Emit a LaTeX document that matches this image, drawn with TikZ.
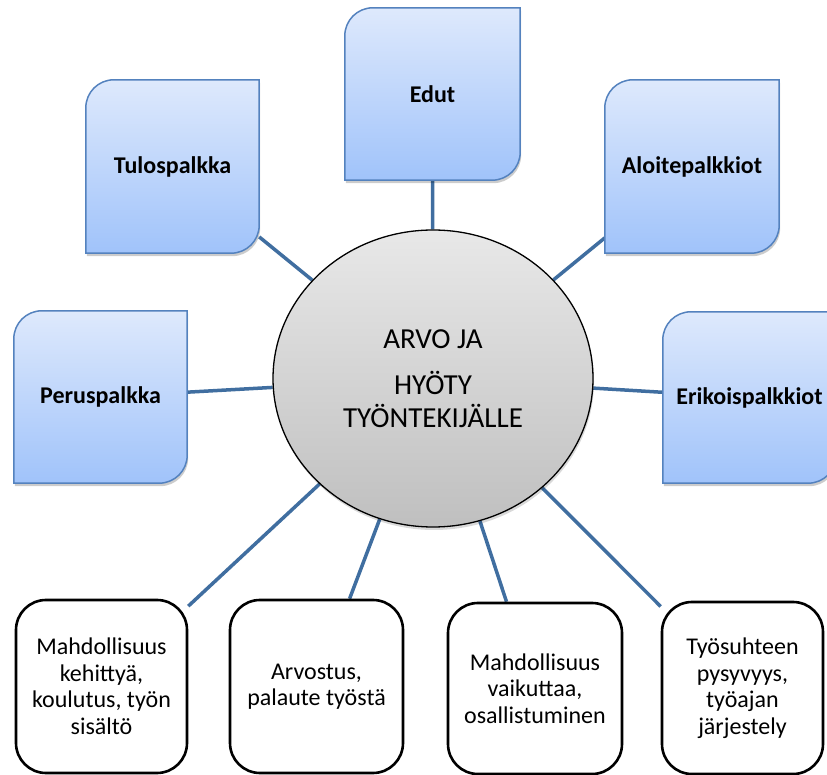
\documentclass[tikz,border=0pt]{standalone}
\usepackage{fontspec}
\setmainfont{Carlito}
\usetikzlibrary{shapes.geometric}
\pgfdeclarelayer{lines}
\pgfdeclarelayer{shapes}
\pgfsetlayers{lines,shapes,main}
\definecolor{bluetop}{RGB}{222,233,252}
\definecolor{bluebot}{RGB}{160,195,250}
\definecolor{blueedge}{RGB}{84,130,190}
\definecolor{conn}{RGB}{64,110,160}
\tikzset{
 bluenode/.style={minimum width=173pt, minimum height=172pt, inner sep=0pt, font=\bfseries\fontsize{24}{28}\selectfont},
 whitebox/.style={draw=black, line width=2.6pt, fill=white, rounded corners=30pt, minimum height=173pt, inner sep=0pt, align=center, font=\fontsize{24}{26.5}\selectfont},
 hub/.style={ellipse, draw=black, line width=1.3pt, top color=gray!18, bottom color=gray!50, minimum width=320pt, minimum height=297pt, inner sep=0pt, align=center, font=\fontsize{29}{33}\selectfont},
 link/.style={draw=conn, line width=3.5pt},
 blueshape/.style={top color=bluetop, bottom color=bluebot, draw=blueedge, line width=1.5pt},
 shadowshape/.style={fill=black, opacity=0.2},
}
\newcommand\drawbluebox[1]{%
 \begin{pgfonlayer}{shapes}
 \fill[shadowshape] ([xshift=1pt,yshift=-31pt]#1.north west) arc[start angle=180,end angle=90,radius=28pt] -- ([xshift=1pt,yshift=-3pt]#1.north east) -- ([xshift=1pt,yshift=25pt]#1.south east) arc[start angle=0,end angle=-90,radius=28pt] -- ([xshift=1pt,yshift=-3pt]#1.south west) -- cycle;
 \shade[blueshape] ([yshift=-28pt]#1.north west) arc[start angle=180,end angle=90,radius=28pt] -- (#1.north east) -- ([yshift=28pt]#1.south east) arc[start angle=0,end angle=-90,radius=28pt] -- (#1.south west) -- cycle;
 \end{pgfonlayer}}
\begin{document}
\begin{tikzpicture}[x=1pt,y=1pt]
\useasboundingbox (0,0) rectangle (827,774);
% hub
\node[hub] (c) at (433,395.5) {ARVO JA\\[13pt]HYÖTY\\TYÖNTEKIJÄLLE};
\begin{pgfonlayer}{shapes}
\fill[black,opacity=.15] ([xshift=1pt,yshift=-3pt]c.center) ellipse[x radius=160pt, y radius=148.5pt];
\end{pgfonlayer}
% blue boxes
\node[bluenode, minimum width=175pt] (e) at (432.5,680) {Edut};
\node[bluenode, minimum height=173pt] (t) at (172.5,607.5) {Tulospalkka};
\node[bluenode, minimum height=173pt, minimum width=174pt] (a) at (692,607.5) {Aloitepalkkiot};
\node[bluenode] (p) at (100.5,377) {Peruspalkka};
\node[bluenode, minimum height=171pt] (k) at (749.5,376.5) {Erikoispalkkiot};
\drawbluebox{e}
\drawbluebox{t}
\drawbluebox{a}
\drawbluebox{p}
\drawbluebox{k}
% bottom boxes
\node[whitebox, minimum width=171pt] (b1) at (101.5,87.5) {Mahdollisuus\\kehittyä,\\koulutus, työn\\sisältö};
\node[whitebox, minimum width=173pt] (b2) at (316.5,87.5) {Arvostus,\\palaute työstä};
\node[whitebox, minimum width=174pt, minimum height=171pt] (b3) at (535,85.5) {Mahdollisuus\\vaikuttaa,\\osallistuminen};
\node[whitebox, minimum width=161pt, minimum height=172pt] (b4) at (742.5,86) {Työsuhteen\\pysyvyys,\\työajan\\järjestely};
% connectors
\begin{pgfonlayer}{lines}
\foreach \n in {e,t,a,p,k,b1,b2,b3,b4} \draw[link] (c) -- (\n);
\end{pgfonlayer}
\end{tikzpicture}
\end{document}
